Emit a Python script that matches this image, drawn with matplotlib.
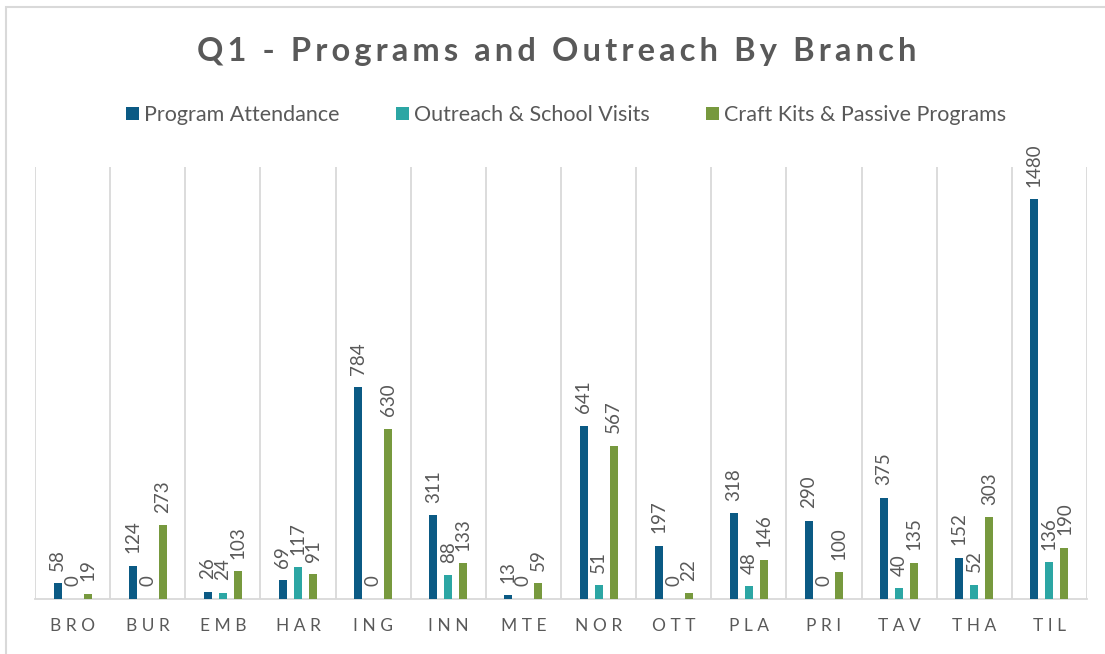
import matplotlib.pyplot as plt
import numpy as np
from matplotlib.patches import Patch, Rectangle

plt.rcParams["font.family"] = ["Lato", "DejaVu Sans"]

branches = ["BRO", "BUR", "EMB", "HAR", "ING", "INN", "MTE",
            "NOR", "OTT", "PLA", "PRI", "TAV", "THA", "TIL"]
program_attendance = [58, 124, 26, 69, 784, 311, 13, 641, 197, 318, 290, 375, 152, 1480]
outreach_visits = [0, 0, 24, 117, 0, 88, 0, 51, 0, 48, 0, 40, 52, 136]
craft_kits = [19, 273, 103, 91, 630, 133, 59, 567, 22, 146, 100, 135, 303, 190]

series_names = ["Program Attendance", "Outreach & School Visits", "Craft Kits & Passive Programs"]
title = "Q1 - Programs and Outreach By Branch"
colors = ["#0B5A84", "#2CA6A4", "#77993E"]
text_gray = "#595959"
grid_gray = "#D9D9D9"

W, H = 1105, 654
fig = plt.figure(figsize=(W / 100, H / 100), dpi=100)

# light frame around the chart (cut off at right/bottom like the screenshot)
fig.patches.append(Rectangle((6 / W, -0.1), 1.2, 1 - 7 / H + 0.1, transform=fig.transFigure,
                             fill=False, edgecolor=grid_gray, linewidth=1.5))

ax = fig.add_axes([35 / W, (H - 599) / H, (1087 - 35) / W, (599 - 167) / H])

x = np.arange(len(branches))
offsets = [-0.2, 0.0, 0.2]
bar_w = 0.107
all_series = [program_attendance, outreach_visits, craft_kits]

for vals, off, col in zip(all_series, offsets, colors):
    bars = ax.bar(x + off, vals, width=bar_w, color=col, zorder=3)
    for rect, v in zip(bars, vals):
        ax.annotate(str(v), (rect.get_x() + rect.get_width() / 2, rect.get_height()),
                    xytext=(0, 9), textcoords="offset points", rotation=90,
                    ha="center", va="bottom", fontsize=13.5, color=text_gray)

ax.set_xlim(-0.5, len(branches) - 0.5)
ax.set_ylim(0, 1600)

# vertical separators between branches
for b in np.arange(-0.5, len(branches), 1.0):
    ax.axvline(b, color=grid_gray, linewidth=1.3, zorder=1)

for s in ["top", "right", "left"]:
    ax.spines[s].set_visible(False)
ax.spines["bottom"].set_color(grid_gray)
ax.spines["bottom"].set_linewidth(1.3)

ax.set_yticks([])
ax.set_xticks(x)
ax.set_xticklabels([" ".join(b) for b in branches], fontsize=12.5, color=text_gray)
ax.tick_params(axis="x", length=0, pad=14)

# letter-spaced title
fig.text(557 / W, 1 - 51 / H, "\u2009".join(title),
         ha="center", va="center", fontsize=23.5, fontweight="bold", color=text_gray)

handles = [Patch(facecolor=c, edgecolor="none") for c in colors]
fig.legend(handles, series_names, ncol=3, loc="center",
           bbox_to_anchor=(566 / W, 1 - 115 / H), frameon=False,
           fontsize=15.5, labelcolor=text_gray, handlelength=0.6, handleheight=0.6,
           handletextpad=0.25, columnspacing=2.6)

fig.savefig("out.png", dpi=100)
